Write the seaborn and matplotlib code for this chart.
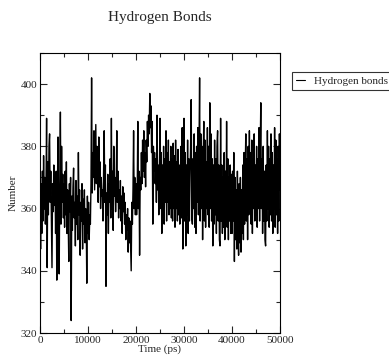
import numpy as np
import pandas as pd
import matplotlib
matplotlib.use("Agg")
import matplotlib.pyplot as plt
from matplotlib.ticker import MultipleLocator
import seaborn as sns

# Hydrogen bond count sampled every 125 ps over a 50 ns trajectory
time_step_ps = 125
hbonds_0_5ns = [365, 347, 368, 352, 372, 356, 377, 360, 370, 355,
                366, 389, 341, 375, 358, 380, 384, 362, 372, 357,
                341, 368, 359, 374, 361, 368, 352, 372, 337, 365,
                383, 358, 339, 370, 391, 355, 380, 362, 371, 357]
hbonds_5_10ns = [368, 354, 372, 358, 375, 352, 366, 356, 343, 368,
                 359, 370, 324, 364, 353, 367, 373, 357, 362, 348,
                 369, 355, 364, 350, 378, 358, 366, 345, 362, 356,
                 368, 347, 363, 355, 366, 349, 360, 357, 336, 364]
hbonds_10_15ns = [352, 362, 350, 358, 355, 368, 402, 365, 378, 370,
                  385, 366, 376, 387, 368, 380, 372, 362, 383, 367,
                  375, 360, 370, 364, 366, 356, 372, 385, 362, 374,
                  335, 365, 358, 371, 352, 368, 362, 376, 357, 389]
hbonds_15_20ns = [360, 372, 353, 380, 364, 370, 359, 368, 385, 362,
                  372, 357, 366, 360, 369, 356, 364, 352, 367, 359,
                  365, 355, 362, 350, 358, 353, 360, 346, 357, 349,
                  356, 348, 340, 362, 355, 366, 385, 360, 370, 358]
hbonds_20_25ns = [368, 358, 364, 388, 360, 372, 345, 370, 366, 378,
                  368, 382, 372, 385, 370, 378, 367, 382, 375, 388,
                  380, 390, 384, 397, 386, 393, 378, 388, 355, 380,
                  372, 378, 368, 376, 362, 390, 366, 374, 358, 372]
hbonds_25_30ns = [389, 360, 378, 352, 374, 358, 380, 355, 376, 362,
                  385, 356, 378, 362, 382, 358, 375, 360, 380, 357,
                  376, 356, 381, 360, 377, 354, 382, 360, 375, 356,
                  379, 358, 374, 355, 372, 380, 357, 386, 347, 376]
hbonds_30_35ns = [389, 356, 378, 348, 374, 358, 382, 352, 376, 356,
                  370, 380, 395, 357, 355, 376, 360, 384, 354, 378,
                  352, 380, 362, 386, 358, 378, 402, 356, 384, 360,
                  380, 350, 376, 388, 356, 382, 354, 375, 360, 386]
hbonds_35_40ns = [358, 380, 354, 394, 360, 384, 356, 376, 348, 374,
                  355, 382, 358, 376, 352, 380, 385, 356, 374, 350,
                  348, 389, 356, 374, 352, 370, 354, 378, 350, 372,
                  356, 388, 354, 376, 350, 370, 356, 374, 352, 371]
hbonds_40_45ns = [352, 372, 356, 378, 343, 370, 350, 366, 347, 372,
                  352, 345, 368, 349, 370, 346, 366, 352, 374, 350,
                  378, 355, 372, 384, 356, 376, 350, 380, 358, 385,
                  360, 378, 355, 382, 352, 376, 360, 384, 356, 374]
hbonds_45_50ns = [358, 380, 354, 376, 360, 386, 356, 378, 394, 360,
                  376, 352, 380, 356, 372, 350, 348, 374, 356, 385,
                  360, 380, 354, 376, 358, 384, 356, 378, 352, 374,
                  360, 386, 354, 382, 358, 376, 352, 380, 356, 384, 366]

hbonds = (hbonds_0_5ns + hbonds_5_10ns + hbonds_10_15ns + hbonds_15_20ns
          + hbonds_20_25ns + hbonds_25_30ns + hbonds_30_35ns
          + hbonds_35_40ns + hbonds_40_45ns + hbonds_45_50ns)
time_ps = np.arange(len(hbonds)) * time_step_ps

df = pd.DataFrame({"Time (ps)": time_ps, "Number": hbonds,
                   "series": "Hydrogen bonds"})

sns.set_style("ticks")
plt.rcParams["font.family"] = ["Liberation Serif", "DejaVu Serif"]

fig = plt.figure(figsize=(3.89, 3.58), dpi=100)
ax = fig.add_axes([0.1028, 0.0698, 0.617, 0.7822])

sns.lineplot(data=df, x="Time (ps)", y="Number", hue="series",
             palette=["black"], linewidth=1.0, ax=ax, legend=True)

ax.set_xlim(0, 50000)
ax.set_ylim(320, 410)
ax.xaxis.set_major_locator(MultipleLocator(10000))
ax.xaxis.set_minor_locator(MultipleLocator(5000))
ax.yaxis.set_major_locator(MultipleLocator(20))
ax.yaxis.set_minor_locator(MultipleLocator(10))
ax.tick_params(which="both", direction="in", top=True, right=True,
               labelsize=8, width=0.8, pad=2)
ax.tick_params(which="major", length=5)
ax.tick_params(which="minor", length=3)
for s in ax.spines.values():
    s.set_linewidth(0.8)
    s.set_color("black")

ax.set_xlabel("Time (ps)", fontsize=8, labelpad=0)
ax.set_ylabel("Number", fontsize=8, labelpad=2)

fig.text(0.411, 1 - 18 / 358, "Hydrogen Bonds", ha="center", va="center",
         fontsize=11)

handles, labels = ax.get_legend_handles_labels()
leg = ax.legend(handles, labels, loc="upper left",
                bbox_to_anchor=(292 / 389, 1 - 72 / 358),
                bbox_transform=fig.transFigure, fontsize=8,
                frameon=True, fancybox=False, handlelength=0.8,
                handletextpad=0.8, borderpad=0.35, borderaxespad=0)
leg.get_frame().set_edgecolor("black")
leg.get_frame().set_linewidth(0.8)
for line in leg.get_lines():
    line.set_linewidth(0.8)

fig.savefig("out.png", dpi=100)
